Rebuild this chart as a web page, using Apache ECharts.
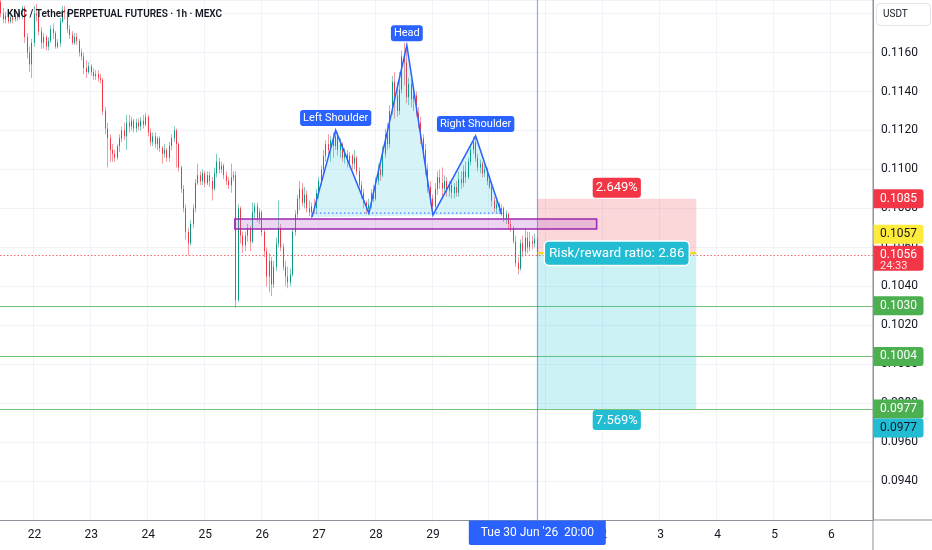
<!DOCTYPE html>
<html>
<head>
<meta charset="utf-8">
<script src="https://cdn.jsdelivr.net/npm/echarts@6/dist/echarts.min.js"></script>
<style>html,body{margin:0;padding:0;background:#fff;}#c{width:932px;height:550px;}</style>
</head>
<body>
<div id="c"></div>
<script>
// ---------- data ----------
const titleText = 'KNC / Tether PERPETUAL FUTURES · 1h · MEXC';
const startTime = Date.UTC(2026, 5, 21, 10); // first hourly category: 21 Jun 10:00
const hourCount = 368;                          // hourly slots shown on the axis

const opens = [
0.1186,0.1180,0.1177,0.1179,0.1176,0.1178,0.1177,0.1179,0.1178,0.1181,
0.1183,0.1168,0.1160,0.1154,0.1165,0.1180,0.1179,0.1171,0.1165,0.1168,
0.1163,0.1166,0.1172,0.1170,0.1163,0.1165,0.1176,0.1182,0.1181,0.1172,
0.1169,0.1165,0.1168,0.1166,0.1160,0.1158,0.1152,0.1150,0.1153,0.1150,
0.1148,0.1149,0.1147,0.1146,0.1130,0.1121,0.1116,0.1110,0.1108,0.1106,
0.1112,0.1116,0.1120,0.1117,0.1124,0.1122,0.1125,0.1121,0.1124,0.1122,
0.1125,0.1123,0.1127,0.1119,0.1114,0.1117,0.1113,0.1116,0.1111,0.1108,
0.1110,0.1106,0.1112,0.1116,0.1120,0.1113,0.1101,0.1090,0.1080,0.1068,
0.1062,0.1072,0.1080,0.1093,0.1097,0.1094,0.1098,0.1093,0.1097,0.1094,
0.1090,0.1098,0.1104,0.1100,0.1102,0.1097,0.1094,0.1092,0.1096,0.1097,
0.1033,0.1080,0.1066,0.1061,0.1066,0.1070,0.1063,0.1078,0.1081,0.1075,
0.1078,0.1068,0.1058,0.1045,0.1053,0.1041,0.1050,0.1062,0.1070,0.1060,
0.1050,0.1045,0.1042,0.1046,0.1068,0.1077,0.1085,0.1090,0.1083,0.1087,
0.1080,0.1078,0.1081,0.1080,0.1088,0.1094,0.1100,0.1107,0.1113,0.1110,
0.1115,0.1112,0.1117,0.1110,0.1113,0.1106,0.1108,0.1104,0.1107,0.1103,
0.1106,0.1099,0.1092,0.1088,0.1083,0.1080,0.1082,0.1088,0.1085,0.1094,
0.1100,0.1097,0.1108,0.1118,0.1113,0.1130,0.1145,0.1138,0.1130,0.1141,
0.1158,0.1155,0.1137,0.1144,0.1136,0.1138,0.1129,0.1124,0.1116,0.1110,
0.1100,0.1091,0.1085,0.1081,0.1090,0.1096,0.1093,0.1090,0.1094,0.1089,
0.1092,0.1088,0.1091,0.1088,0.1095,0.1093,0.1099,0.1096,0.1104,0.1110,
0.1114,0.1106,0.1101,0.1103,0.1098,0.1100,0.1094,0.1091,0.1084,0.1080,
0.1082,0.1079,0.1080,0.1075,0.1077,0.1072,0.1070,0.1063,0.1052,0.1049,
0.1062,0.1058,0.1065,0.1060,0.1063,0.1062,0.1064];

const closes = [
0.1180,0.1177,0.1179,0.1176,0.1178,0.1177,0.1179,0.1178,0.1181,0.1183,
0.1168,0.1160,0.1154,0.1165,0.1180,0.1179,0.1171,0.1165,0.1168,0.1163,
0.1166,0.1172,0.1170,0.1163,0.1165,0.1176,0.1182,0.1181,0.1172,0.1169,
0.1165,0.1168,0.1166,0.1160,0.1158,0.1152,0.1150,0.1153,0.1150,0.1148,
0.1149,0.1147,0.1146,0.1130,0.1121,0.1116,0.1110,0.1108,0.1106,0.1112,
0.1116,0.1120,0.1117,0.1124,0.1122,0.1125,0.1121,0.1124,0.1122,0.1125,
0.1123,0.1127,0.1119,0.1114,0.1117,0.1113,0.1116,0.1111,0.1108,0.1110,
0.1106,0.1112,0.1116,0.1120,0.1113,0.1101,0.1090,0.1080,0.1068,0.1062,
0.1072,0.1080,0.1093,0.1097,0.1094,0.1098,0.1093,0.1097,0.1094,0.1090,
0.1098,0.1104,0.1100,0.1102,0.1097,0.1094,0.1092,0.1096,0.1097,0.1033,
0.1080,0.1066,0.1061,0.1066,0.1070,0.1063,0.1078,0.1081,0.1075,0.1078,
0.1068,0.1058,0.1045,0.1053,0.1041,0.1050,0.1062,0.1070,0.1060,0.1050,
0.1045,0.1042,0.1046,0.1068,0.1077,0.1085,0.1090,0.1083,0.1087,0.1080,
0.1078,0.1081,0.1080,0.1088,0.1094,0.1100,0.1107,0.1113,0.1110,0.1115,
0.1112,0.1117,0.1110,0.1113,0.1106,0.1108,0.1104,0.1107,0.1103,0.1106,
0.1099,0.1092,0.1088,0.1083,0.1080,0.1082,0.1088,0.1085,0.1094,0.1100,
0.1097,0.1108,0.1118,0.1113,0.1130,0.1145,0.1138,0.1130,0.1141,0.1158,
0.1155,0.1137,0.1144,0.1136,0.1138,0.1129,0.1124,0.1116,0.1110,0.1100,
0.1091,0.1085,0.1081,0.1090,0.1096,0.1093,0.1090,0.1094,0.1089,0.1092,
0.1088,0.1091,0.1088,0.1095,0.1093,0.1099,0.1096,0.1104,0.1110,0.1114,
0.1106,0.1101,0.1103,0.1098,0.1100,0.1094,0.1091,0.1084,0.1080,0.1082,
0.1079,0.1080,0.1075,0.1077,0.1072,0.1070,0.1063,0.1052,0.1049,0.1062,
0.1058,0.1065,0.1060,0.1063,0.1062,0.1064,0.1056];

const lows = [
0.1178,0.1175,0.1175,0.1175,0.1175,0.1175,0.1176,0.1176,0.1177,0.1177,
0.1165,0.1157,0.1150,0.1147,0.1163,0.1176,0.1169,0.1162,0.1162,0.1161,
0.1161,0.1165,0.1167,0.1162,0.1162,0.1163,0.1175,0.1177,0.1170,0.1167,
0.1164,0.1164,0.1164,0.1158,0.1156,0.1149,0.1147,0.1149,0.1148,0.1146,
0.1146,0.1145,0.1144,0.1128,0.1118,0.1101,0.1104,0.1104,0.1104,0.1105,
0.1109,0.1114,0.1115,0.1110,0.1119,0.1120,0.1119,0.1119,0.1120,0.1120,
0.1121,0.1122,0.1117,0.1112,0.1112,0.1111,0.1110,0.1109,0.1103,0.1106,
0.1104,0.1104,0.1110,0.1114,0.1101,0.1099,0.1088,0.1078,0.1064,0.1056,
0.1061,0.1070,0.1078,0.1092,0.1092,0.1092,0.1091,0.1092,0.1091,0.1084,
0.1089,0.1096,0.1098,0.1098,0.1095,0.1092,0.1090,0.1088,0.1094,0.1029,
0.1032,0.1062,0.1057,0.1058,0.1063,0.1058,0.1062,0.1075,0.1073,0.1072,
0.1066,0.1055,0.1040,0.1037,0.1035,0.1039,0.1048,0.1060,0.1058,0.1048,
0.1040,0.1039,0.1040,0.1045,0.1066,0.1075,0.1079,0.1081,0.1080,0.1078,
0.1076,0.1075,0.1077,0.1078,0.1085,0.1092,0.1098,0.1104,0.1106,0.1104,
0.1106,0.1110,0.1107,0.1106,0.1104,0.1103,0.1101,0.1101,0.1100,0.1100,
0.1097,0.1090,0.1085,0.1080,0.1077,0.1077,0.1080,0.1083,0.1084,0.1092,
0.1094,0.1096,0.1106,0.1110,0.1111,0.1128,0.1126,0.1127,0.1128,0.1139,
0.1143,0.1134,0.1133,0.1132,0.1130,0.1127,0.1121,0.1113,0.1106,0.1097,
0.1088,0.1082,0.1077,0.1079,0.1087,0.1090,0.1085,0.1087,0.1086,0.1086,
0.1085,0.1085,0.1086,0.1086,0.1090,0.1091,0.1093,0.1095,0.1102,0.1108,
0.1104,0.1099,0.1098,0.1096,0.1096,0.1092,0.1090,0.1081,0.1078,0.1078,
0.1077,0.1076,0.1073,0.1072,0.1069,0.1068,0.1062,0.1050,0.1046,0.1048,
0.1055,0.1056,0.1057,0.1058,0.1059,0.1060,0.1055];

const highs = [
0.1187,0.1183,0.1181,0.1180,0.1180,0.1179,0.1181,0.1180,0.1182,0.1184,
0.1184,0.1170,0.1163,0.1167,0.1184,0.1185,0.1181,0.1173,0.1170,0.1169,
0.1168,0.1174,0.1175,0.1171,0.1167,0.1178,0.1184,0.1184,0.1182,0.1174,
0.1171,0.1170,0.1170,0.1167,0.1162,0.1160,0.1156,0.1155,0.1154,0.1152,
0.1151,0.1151,0.1149,0.1147,0.1132,0.1124,0.1118,0.1113,0.1110,0.1113,
0.1118,0.1122,0.1124,0.1128,0.1128,0.1127,0.1126,0.1126,0.1126,0.1127,
0.1128,0.1129,0.1128,0.1121,0.1119,0.1119,0.1117,0.1117,0.1112,0.1113,
0.1111,0.1114,0.1118,0.1122,0.1121,0.1114,0.1102,0.1092,0.1082,0.1070,
0.1074,0.1082,0.1095,0.1103,0.1099,0.1100,0.1099,0.1099,0.1099,0.1096,
0.1101,0.1108,0.1106,0.1104,0.1103,0.1099,0.1096,0.1103,0.1099,0.1099,
0.1082,0.1081,0.1068,0.1068,0.1072,0.1071,0.1083,0.1083,0.1083,0.1080,
0.1079,0.1069,0.1060,0.1057,0.1055,0.1053,0.1065,0.1084,0.1072,0.1062,
0.1053,0.1050,0.1049,0.1070,0.1079,0.1087,0.1094,0.1093,0.1091,0.1089,
0.1084,0.1083,0.1085,0.1090,0.1096,0.1102,0.1110,0.1115,0.1118,0.1117,
0.1119,0.1120,0.1119,0.1116,0.1114,0.1111,0.1110,0.1109,0.1108,0.1110,
0.1107,0.1101,0.1094,0.1090,0.1084,0.1085,0.1090,0.1092,0.1096,0.1103,
0.1104,0.1112,0.1121,0.1124,0.1133,0.1148,0.1150,0.1145,0.1150,0.1161,
0.1165,0.1163,0.1147,0.1146,0.1141,0.1140,0.1132,0.1127,0.1118,0.1113,
0.1103,0.1094,0.1087,0.1093,0.1099,0.1100,0.1101,0.1097,0.1096,0.1094,
0.1094,0.1093,0.1094,0.1099,0.1099,0.1102,0.1104,0.1106,0.1113,0.1117,
0.1117,0.1108,0.1105,0.1104,0.1102,0.1101,0.1096,0.1092,0.1086,0.1084,
0.1083,0.1082,0.1081,0.1079,0.1078,0.1074,0.1071,0.1066,0.1055,0.1064,
0.1066,0.1070,0.1068,0.1068,0.1066,0.1067,0.1065];

// price axis
const Y_MIN = 0.092, Y_MAX = 0.1187, Y_STEP = 0.002;

// head & shoulders drawing (category index, price)
const patternIdx   = [131, 141, 155, 171, 182, 200, 211];
const patternPrice = [0.10755, 0.11202, 0.10775, 0.11638, 0.10765, 0.11172, 0.10770];
const patternNames = ['', 'Left Shoulder', '', 'Head', '', 'Right Shoulder', ''];
const necklineIdx = [131, 212];
const necklinePrice = 0.10776;

// supply/demand zone rectangle
const zoneIdx = [99, 251];
const zonePrice = [0.10694, 0.10745];

// short position tool
const posIdx = [226, 293];
const posEntry = 0.1057, posStop = 0.1085, posTarget = 0.0977;
const posTexts = ['2.649%', 'Risk/reward ratio: 2.86', '7.569%'];

// horizontal levels and current price
const levelPrices = [0.1030, 0.1004, 0.0977];
const lastPrice = 0.1056;
const countdown = '24:33';

// crosshair
const cursorIdx = 226;
const cursorLabel = "Tue 30 Jun '26  20:00";

// price scale tags
const tagValues = [0.1085, 0.1057, 0.1056, 0.1030, 0.1004, 0.0977, 0.0977];
const tagFills  = ['#f23645', '#ffeb3b', '#f23645', '#4caf50', '#4caf50', '#4caf50', '#22bcd3'];
const tagInks   = ['#ffffff', '#131722', '#ffffff', '#ffffff', '#ffffff', '#ffffff', '#131722'];
const tagShift  = [0, -19, 0, 0, 0, 0, 19];

// ---------- chart ----------
const FONT = 'Roboto, "Noto Sans", sans-serif';
const GRID_RIGHT = 59, GRID_BOTTOM = 30;

const categories = [];
for (let k = 0; k < hourCount; k++) {
  categories.push(new Date(startTime + k * 3600000).toISOString().slice(0, 13));
}
const isMidnight = (idx, val) => String(val).slice(11, 13) === '00';
// full candles (drawn light: visible part is the wick) and bodies only (drawn solid on top)
const wickData = opens.map((o, i) => [o, closes[i], lows[i], highs[i]]);
const bodyData = opens.map((o, i) => [o, closes[i], Math.min(o, closes[i]), Math.max(o, closes[i])]);

const chart = echarts.init(document.getElementById('c'));

function renderLines(params, api) {
  const cs = params.coordSys;
  const children = levelPrices.map(p => {
    const y = Math.round(api.coord([0, p])[1]) + 0.5;
    return { type: 'line', shape: { x1: cs.x, y1: y, x2: cs.x + cs.width, y2: y }, style: { stroke: '#5cb860', lineWidth: 1, opacity: 0.85 } };
  });
  const yl = Math.round(api.coord([0, lastPrice])[1]) + 0.5;
  children.push({ type: 'line', shape: { x1: cs.x, y1: yl, x2: cs.x + cs.width, y2: yl }, style: { stroke: '#f23645', lineWidth: 1, lineDash: [1.5, 2], opacity: 0.75 } });
  const xc = Math.round(api.coord([cursorIdx, lastPrice])[0]) + 0.5;
  children.push({ type: 'line', shape: { x1: xc, y1: cs.y, x2: xc, y2: cs.y + cs.height }, style: { stroke: '#2962ff', lineWidth: 1.2, opacity: 0.55 } });
  return { type: 'group', children: children };
}

function renderZone(params, api) {
  const half = api.size([1, 0])[0] / 2;
  const a = api.coord([zoneIdx[0], zonePrice[1]]);
  const b = api.coord([zoneIdx[1], zonePrice[0]]);
  return {
    type: 'rect',
    shape: { x: a[0] - half, y: a[1], width: b[0] - a[0] + half, height: b[1] - a[1] },
    style: { fill: 'rgba(186,104,200,0.28)', stroke: '#9c27b0', lineWidth: 1.5 }
  };
}

function renderPosition(params, api) {
  const e = api.coord([posIdx[0], posEntry]);
  const s = api.coord([posIdx[0], posStop]);
  const t = api.coord([posIdx[0], posTarget]);
  const x2 = api.coord([posIdx[1], posEntry])[0];
  const x1 = e[0], w = x2 - x1, cx = (x1 + x2) / 2;
  return {
    type: 'group',
    children: [
      { type: 'rect', shape: { x: x1, y: s[1], width: w, height: e[1] - s[1] }, style: { fill: 'rgba(242,54,69,0.2)' } },
      { type: 'rect', shape: { x: x1, y: e[1], width: w, height: t[1] - e[1] }, style: { fill: 'rgba(0,188,212,0.2)' } },
      { type: 'line', shape: { x1: x1, y1: e[1], x2: x2, y2: e[1] }, style: { stroke: '#f5d90a', lineWidth: 2 } },
      { type: 'text', x: cx, y: s[1] - 1, style: { text: posTexts[0], font: '13px ' + FONT, fill: '#fff', align: 'center', verticalAlign: 'bottom', backgroundColor: '#f23645', padding: [4, 3, 3, 3], borderRadius: 3 } },
      { type: 'text', x: cx, y: e[1], style: { text: posTexts[1], font: '13.5px ' + FONT, fill: '#fff', align: 'center', verticalAlign: 'middle', backgroundColor: '#22bcd3', padding: [5, 4, 4, 4], borderRadius: 4, borderColor: '#ffffff', borderWidth: 1.5 } },
      { type: 'text', x: cx, y: t[1] + 1, style: { text: posTexts[2], font: '13px ' + FONT, fill: '#fff', align: 'center', verticalAlign: 'top', backgroundColor: '#22bcd3', padding: [4, 3, 3, 3], borderRadius: 3 } }
    ]
  };
}

function renderPattern(params, api) {
  const pts = patternIdx.map((ix, k) => api.coord([ix, patternPrice[k]]));
  const n1 = api.coord([necklineIdx[0], necklinePrice]);
  const n2 = api.coord([necklineIdx[1], necklinePrice]);
  const children = [
    { type: 'polygon', shape: { points: pts }, style: { fill: 'rgba(0,188,212,0.16)' } },
    { type: 'line', shape: { x1: n1[0], y1: n1[1], x2: n2[0], y2: n2[1] }, style: { stroke: '#2962ff', lineWidth: 1, lineDash: [1.5, 2.5] } },
    { type: 'polyline', shape: { points: pts }, style: { stroke: '#2962ff', lineWidth: 1.5, fill: null } }
  ];
  patternNames.forEach((name, k) => {
    if (!name) return;
    children.push({
      type: 'text', x: pts[k][0], y: pts[k][1] - 4,
      style: { text: name, font: '11px ' + FONT, fill: '#fff', align: 'center', verticalAlign: 'bottom', backgroundColor: '#2962ff', padding: [3, 3, 2, 3], borderRadius: 3 }
    });
  });
  return { type: 'group', children: children };
}

const option = {
  animation: false,
  backgroundColor: '#ffffff',
  title: { text: titleText, left: 2, top: 4, textStyle: { fontFamily: FONT, fontSize: 10, fontWeight: 600, color: '#131722' } },
  grid: { left: 0, right: GRID_RIGHT, top: 0, bottom: GRID_BOTTOM },
  xAxis: {
    type: 'category', data: categories, boundaryGap: true,
    axisLine: { lineStyle: { color: '#8e9199' } },
    axisTick: { show: false },
    axisLabel: { interval: isMidnight, formatter: v => String(parseInt(v.slice(8, 10), 10)), color: '#131722', fontSize: 12, fontFamily: FONT, margin: 9 },
    splitLine: { show: true, interval: isMidnight, lineStyle: { color: '#f0f3fa' } }
  },
  yAxis: {
    type: 'value', position: 'right', min: Y_MIN, max: Y_MAX, interval: Y_STEP, scale: true,
    axisLine: { show: true, lineStyle: { color: '#8e9199' } },
    axisTick: { show: false },
    axisLabel: { formatter: v => (v < 0.0935 || v > 0.1175) ? '' : v.toFixed(4), color: '#131722', fontSize: 12, fontFamily: FONT, margin: 8 },
    splitLine: { show: true, lineStyle: { color: '#f0f3fa' } }
  },
  series: [
    { type: 'custom', renderItem: renderLines, data: [[cursorIdx, lastPrice]], z: 1, clip: false, silent: true },
    {
      type: 'candlestick', data: wickData, barWidth: 1.3, z: 2, silent: true,
      itemStyle: { color: 'rgba(8,153,129,0.5)', color0: 'rgba(242,54,69,0.5)', borderColor: 'rgba(8,153,129,0.5)', borderColor0: 'rgba(242,54,69,0.5)', borderWidth: 1 }
    },
    {
      type: 'candlestick', data: bodyData, barWidth: 1.3, z: 2, silent: true,
      itemStyle: { color: '#089981', color0: '#f23645', borderColor: '#089981', borderColor0: '#f23645', borderWidth: 1 }
    },
    { type: 'custom', renderItem: renderZone, data: [[zoneIdx[0], zonePrice[0]]], z: 4, clip: false, silent: true },
    { type: 'custom', renderItem: renderPattern, data: [[patternIdx[0], patternPrice[0]]], z: 5, clip: false, silent: true },
    { type: 'custom', renderItem: renderPosition, data: [[posIdx[0], posEntry]], z: 3, clip: false, silent: true }
  ]
};
chart.setOption(option);

// ---------- price-scale tags, crosshair label, currency box ----------
const W = chart.getWidth(), H = chart.getHeight();
const plotRight = W - GRID_RIGHT, plotBottom = H - GRID_BOTTOM;
const yPx = v => chart.convertToPixel({ yAxisIndex: 0 }, v);
const g = [];
g.push({ type: 'line', z: 90, shape: { x1: plotRight, y1: 0, x2: plotRight, y2: H }, style: { stroke: '#8e9199', lineWidth: 1 } });
g.push({ type: 'line', z: 90, shape: { x1: plotRight, y1: plotBottom, x2: W, y2: plotBottom }, style: { stroke: '#8e9199', lineWidth: 1 } });
tagValues.forEach((v, k) => {
  const cy = yPx(v) + tagShift[k];
  const isLast = (v === lastPrice && k === 2);
  const top = cy - 9.5;
  const h = isLast ? 25 : 19;
  g.push({ type: 'rect', z: 100, shape: { x: plotRight + 0.5, y: top, width: 50, height: h, r: [0, 3, 3, 0] }, style: { fill: tagFills[k] } });
  g.push({ type: 'text', z: 101, x: plotRight + 7, y: cy, style: { text: v.toFixed(4), font: '12px ' + FONT, fill: tagInks[k], verticalAlign: 'middle', align: 'left' } });
  if (isLast) {
    g.push({ type: 'text', z: 101, x: plotRight + 7, y: cy + 11, style: { text: countdown, font: '11px ' + FONT, fill: '#fde4e6', verticalAlign: 'middle', align: 'left' } });
  }
});
g.push({ type: 'rect', z: 100, shape: { x: plotRight + 3.5, y: 3.5, width: 54, height: 22, r: 4 }, style: { fill: '#fff', stroke: '#e0e3eb', lineWidth: 1 } });
g.push({ type: 'text', z: 101, x: plotRight + 10, y: 14.5, style: { text: 'USDT', font: '10px ' + FONT, fill: '#131722', verticalAlign: 'middle', align: 'left' } });
const cx = chart.convertToPixel({ xAxisIndex: 0 }, categories[cursorIdx]);
g.push({ type: 'rect', z: 100, shape: { x: cx - 68.5, y: plotBottom + 0.5, width: 137, height: 24.5, r: [0, 0, 2, 2] }, style: { fill: '#2962ff' } });
g.push({ type: 'text', z: 101, x: cx, y: plotBottom + 13, style: { text: cursorLabel, font: '12px ' + FONT, fill: '#fff', verticalAlign: 'middle', align: 'center' } });
chart.setOption({ graphic: g });
</script>
</body>
</html>
